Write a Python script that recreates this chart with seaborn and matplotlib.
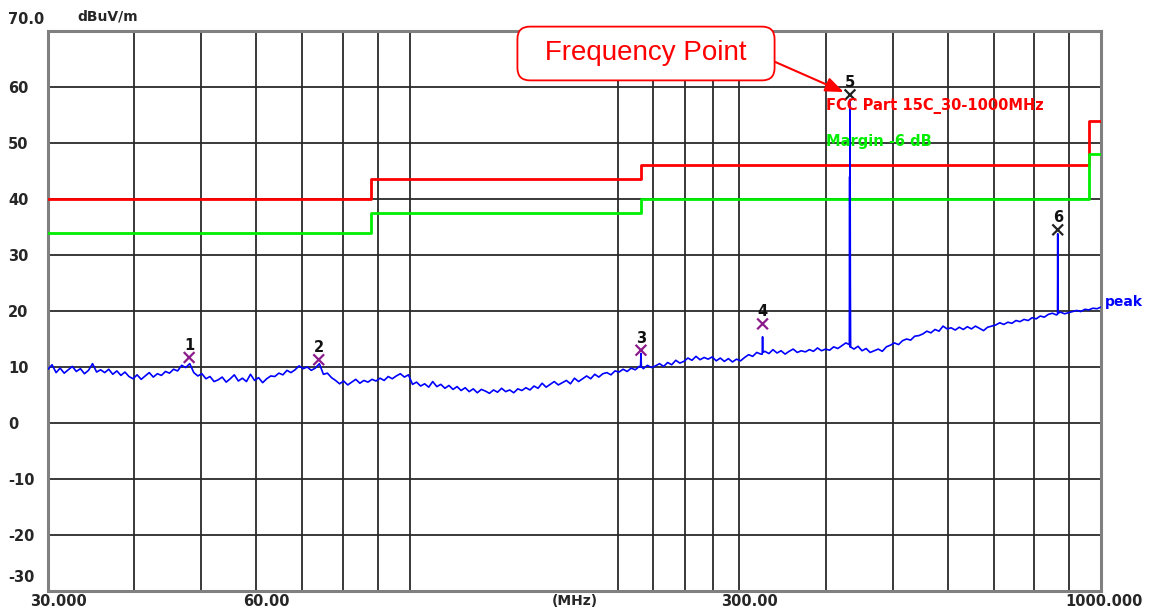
import numpy as np
import pandas as pd
import seaborn as sns
import matplotlib.pyplot as plt
from matplotlib.transforms import ScaledTranslation

# ==========================================
# 1. DATA
# ==========================================
# peak detector sweep, evenly spaced on a log frequency axis 30 MHz -> 1 GHz
sweep_level = [
    9.6, 10.4, 9.0, 9.8, 8.9, 9.5, 10.1, 9.2, 9.7, 8.8, 9.4, 10.6, 9.1, 9.5,
    9.0, 9.6, 8.7, 9.3, 8.5, 9.1, 8.3, 7.9,
    8.6, 7.8, 8.4, 9.0, 8.2, 8.8,
    8.5, 9.2, 8.9, 9.6, 9.3, 10.3, 9.9,
    10.6,
    9.0, 8.4, 8.8, 7.9, 8.3, 7.4, 7.7,
    8.2, 7.3, 7.9, 8.6, 7.5,
    8.0, 7.4, 8.7, 7.6, 8.1, 7.2, 7.9, 8.4,
    8.3, 8.9, 8.6, 9.4, 9.0,
    9.5, 10.2, 9.7, 10.0,
    9.4, 9.8, 10.6,
    8.7, 8.9, 8.1, 7.6, 7.0,
    7.5, 6.8, 7.3, 7.8, 7.1,
    7.6, 7.3, 7.8, 7.5, 8.0, 7.6, 8.3, 7.9, 8.4, 8.8,
    8.2, 8.6,
    6.9, 7.3, 6.6, 7.0, 6.4, 7.4, 6.5, 6.9, 6.2, 6.7,
    6.0, 6.5, 5.8, 6.3, 5.6, 6.1, 5.4, 6.0, 5.7, 5.3,
    5.9, 5.5, 6.2, 5.6, 5.9, 5.4, 6.1, 5.8,
    6.3, 5.9, 6.6, 6.2, 7.1, 6.4, 6.9, 7.4, 6.8, 7.2,
    7.6, 7.0, 8.0, 7.4, 7.9,
    8.4, 7.9, 8.7, 8.2, 8.8,
    9.0, 8.6, 9.3, 9.1, 9.6,
    9.2, 9.8, 9.5, 10.1, 9.7, 10.3, 9.9,
    10.2, 10.6, 10.1, 10.8, 10.4, 11.2, 10.7,
    11.0, 11.6, 11.2, 11.9, 11.3, 11.7, 11.4,
    11.8, 11.1, 11.6, 11.0, 11.5, 10.9, 11.4, 11.1,
    11.7, 12.2, 11.9, 12.6, 12.3,
    12.8, 12.4, 13.1, 12.5, 12.9, 12.3, 12.8, 13.2, 12.6, 12.9,
    12.7, 13.1, 12.8, 13.4, 12.9, 13.2, 13.0, 13.6, 13.3, 13.8, 14.3,
    13.6, 13.2, 13.7, 12.9, 13.3, 12.6, 12.9,
    13.2, 12.8, 13.6, 13.9,
    14.3, 14.0, 14.7, 15.0, 14.8, 15.5, 15.6,
    15.9, 16.4, 16.1, 16.7, 16.4, 17.3, 16.8,
    17.0, 16.6, 17.1, 16.7,
    17.2, 16.8, 17.3, 16.9, 16.5, 17.1, 17.3,
    17.5, 17.9, 17.6,
    18.0, 17.8, 18.3, 18.1, 18.5, 18.3, 18.8,
    18.6, 19.1, 18.9, 19.4, 19.6,
    19.3, 19.8, 19.5, 19.7, 19.9,
    20.1, 19.9, 20.3, 20.2, 20.5, 20.4, 20.7,
]

# narrow emissions on top of the noise floor
spike_freq = [215.8, 216.1, 216.4, 323.6, 324.0, 324.4,
              432.6, 433.0, 433.5, 434.0, 434.4, 865.2, 865.8, 866.4]
spike_level = [10.0, 12.4, 10.1, 12.3, 15.4, 12.6,
               14.0, 44.0, 57.8, 25.5, 13.6, 19.4, 33.8, 19.6]

# FCC Part 15C class B radiated limit and the -6 dB margin
limit_edges = [30, 88, 216, 960, 1000]
limit_level = [40, 43.5, 46, 54]
margin_db = 6

# marked frequency points
marker_freq = [48.0, 73.9, 216.1, 324.0, 433.5, 865.8]
marker_level = [11.7, 11.3, 13.0, 17.7, 58.6, 34.5]
marker_label = ['1', '2', '3', '4', '5', '6']

x_grid = [30, 40, 50, 60, 70, 80, 90, 100, 200, 225, 250, 275, 300,
          400, 500, 600, 700, 800, 900, 1000]
x_named = {30: '30.000', 60: '60.00', 300: '300.00', 1000: '1000.000'}
y_grid = [-30, -20, -10, 0, 10, 20, 30, 40, 50, 60, 70]
y_names = ['-30', '-20', '-10', '0', '10', '20', '30', '40', '50', '60', '70.0']

# ==========================================
# 2. TABLES
# ==========================================
sweep = pd.DataFrame({'freq': np.geomspace(30, 1000, len(sweep_level)), 'level': sweep_level})
spikes = pd.DataFrame({'freq': spike_freq, 'level': spike_level})
trace = pd.concat([sweep, spikes]).sort_values('freq').reset_index(drop=True)

limit = pd.DataFrame({'freq': limit_edges, 'level': limit_level + [limit_level[-1]]})
margin = limit.assign(level=limit['level'] - margin_db)

marks = pd.DataFrame({'freq': marker_freq, 'level': marker_level, 'label': marker_label})
marks['kind'] = ['purple'] * 4 + ['black'] * 2

# ==========================================
# 3. PLOT
# ==========================================
sns.set_style('white')
plt.rcParams['font.family'] = ['DejaVu Sans']

fig = plt.figure(figsize=(11.52, 6.15), dpi=100)
ax = fig.add_axes([48 / 1152, 24 / 615, 1053 / 1152, 560 / 615])
ax.set_xscale('log')

sns.lineplot(data=limit, x='freq', y='level', color='#ff0000', lw=2, drawstyle='steps-post', ax=ax, zorder=3)
sns.lineplot(data=margin, x='freq', y='level', color='#00ee00', lw=2, drawstyle='steps-post', ax=ax, zorder=3)
sns.lineplot(data=trace, x='freq', y='level', color='#0000ff', lw=1.2, estimator=None, ax=ax, zorder=4)

sns.scatterplot(data=marks, x='freq', y='level', hue='kind', palette={'purple': '#8b1a8b', 'black': '#222222'},
                marker='x', s=60, linewidth=1.6, legend=False, ax=ax, zorder=5)
for _, r in marks.iterrows():
    ax.annotate(r['label'], (r['freq'], r['level']), xytext=(0, 5.5), textcoords='offset points',
                ha='center', va='baseline', fontsize=10.5, fontweight='bold', color='#111111', zorder=6)

ax.set_xlim(30, 1000)
ax.set_ylim(-30, 70)
ax.set_xlabel('')
ax.set_ylabel('')

# grid + ticks
ax.set_xticks(x_grid)
ax.set_xticks([], minor=True)
ax.set_xticklabels([x_named.get(v, '') for v in x_grid], fontsize=10.5, fontweight='bold')
ax.set_yticks(y_grid)
ax.set_yticklabels(y_names, fontsize=10.5, fontweight='bold')
ax.grid(True, which='major', color='#2a2a2a', lw=1.3, zorder=1)
ax.set_axisbelow(True)
ax.tick_params(axis='both', length=0)
ax.tick_params(axis='x', pad=2)
ax.tick_params(axis='y', pad=28.8)
for lab in ax.get_yticklabels():
    lab.set_horizontalalignment('left')
for lab in ax.get_xticklabels():
    dx = 3 if lab.get_text() == '1000.000' else 10
    lab.set_transform(lab.get_transform() + ScaledTranslation(dx / 100, 0, fig.dpi_scale_trans))
ylabs = ax.get_yticklabels()
ylabs[-1].set_transform(ylabs[-1].get_transform() + ScaledTranslation(0, 13 / 100, fig.dpi_scale_trans))
ylabs[0].set_transform(ylabs[0].get_transform() + ScaledTranslation(0, 15 / 100, fig.dpi_scale_trans))

for s in ax.spines.values():
    s.set_color('#808080')
    s.set_linewidth(2.2)

# texts round the plot
fig.text(77 / 1152, 1 - 17 / 615, 'dBuV/m', fontsize=10, fontweight='bold', va='center', ha='left')
ax.text(0.5, -0.006, '(MHz)', transform=ax.transAxes, fontsize=10, fontweight='bold', ha='center', va='top')
ax.text(0.739, 0.866, 'FCC Part 15C_30-1000MHz', transform=ax.transAxes, color='#ff0000',
        fontsize=10.5, fontweight='bold', va='center', ha='left', zorder=6)
ax.text(0.739, 0.802, 'Margin -6 dB', transform=ax.transAxes, color='#00ee00',
        fontsize=10.5, fontweight='bold', va='center', ha='left', zorder=6)
ax.text(1.004, 0.516, 'peak', transform=ax.transAxes, color='#0000ff',
        fontsize=10, fontweight='bold', va='center', ha='left')

ax.annotate('\u2002Frequency Point\u2002', xy=(marker_freq[4], marker_level[4]), xycoords='data',
            xytext=(646, 561.5), textcoords='figure pixels', ha='center', va='center',
            fontsize=20, family='Liberation Sans', color='#ff0000', zorder=10,
            bbox=dict(boxstyle='round,pad=0.5,rounding_size=0.45', fc='white', ec='#ff0000', lw=1.3),
            arrowprops=dict(arrowstyle='-|>,head_length=0.55,head_width=0.22', color='#ff0000', lw=1.5,
                            relpos=(1.0, 0.42), shrinkA=0, shrinkB=5),
            annotation_clip=False)

plt.savefig('out.png', dpi=100)
